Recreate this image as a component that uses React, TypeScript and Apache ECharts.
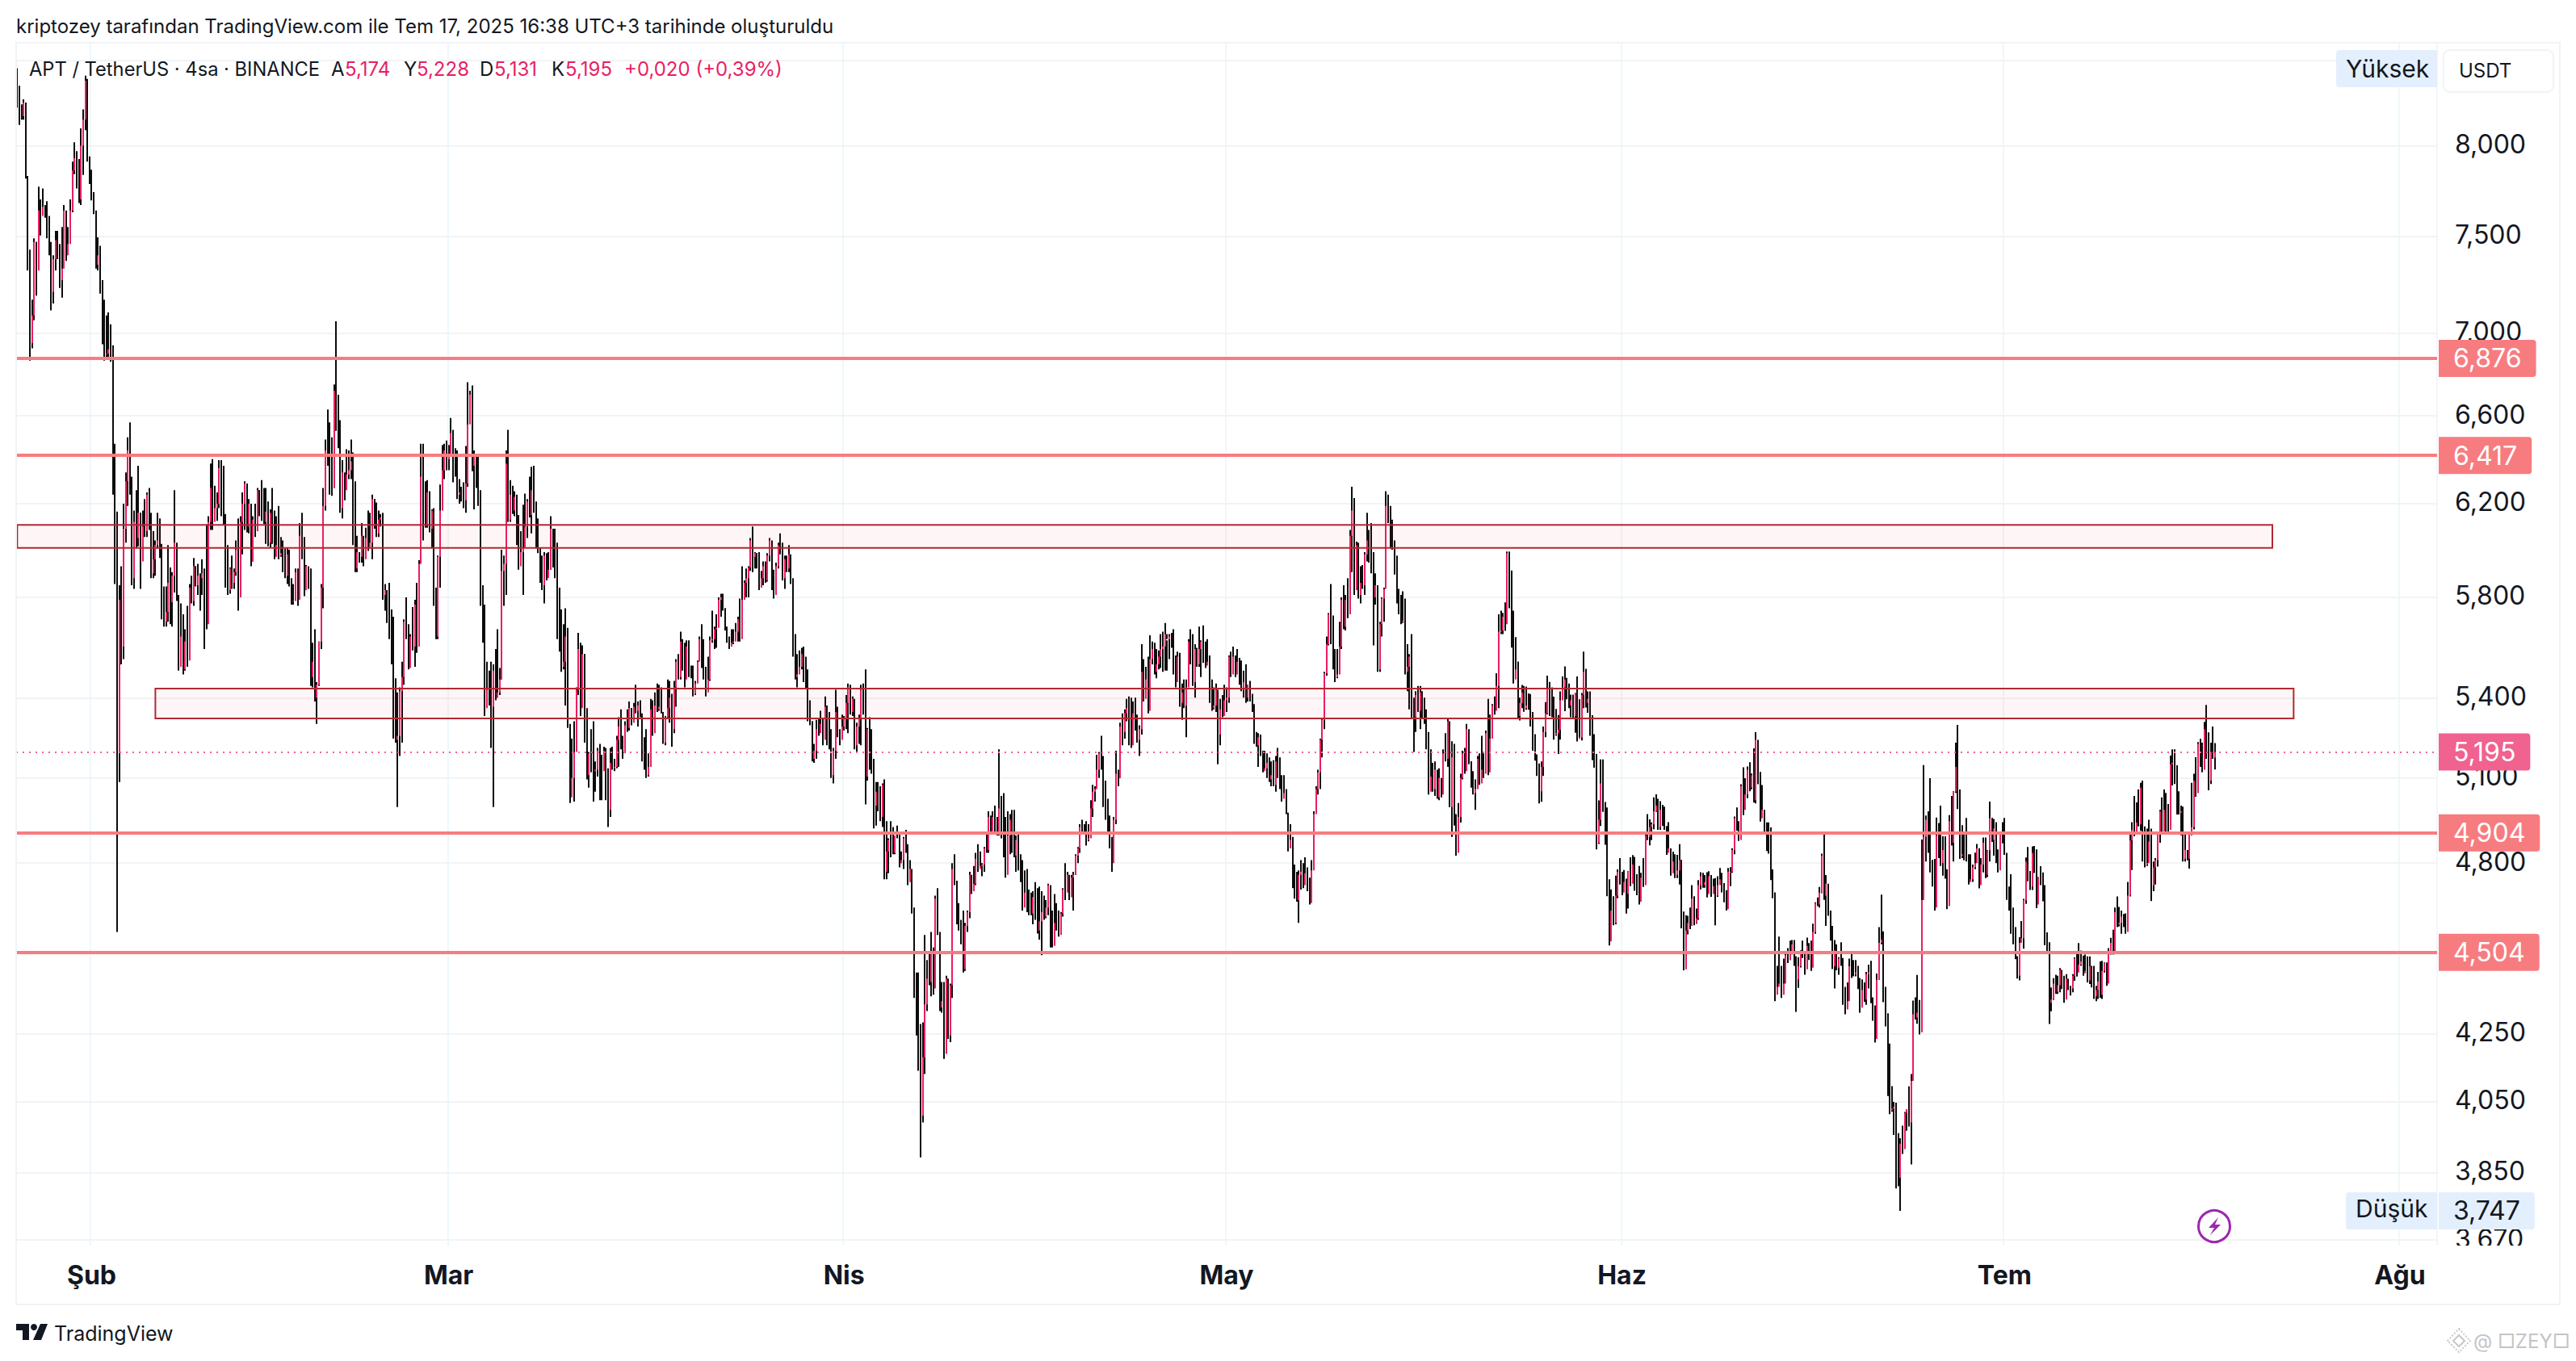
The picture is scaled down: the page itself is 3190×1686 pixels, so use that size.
import React, { useEffect, useRef } from "react";
import * as echarts from "echarts";

// Each month list is flat: high, low, close of one 4h bar, in thousandths of USDT.
const janBars = [
8454,8220,8240, 8350,8120,8200, 8240,8150,8170, 8270,8150,8250, 8250,7815,7820, 7830,7320,7400, 7430,6865,6950, 7170,6925,7090,
7490,7065,7470, 7470,7190,7320, 7770,7320,7640, 7700,7505,7610, 7760,7630,7660, 7670,7600,7620, 7690,7490,7540, 7610,7400,7430,
7470,7115,7210, 7400,7150,7380, 7530,7320,7480, 7530,7380,7400, 7460,7230,7270, 7550,7180,7330, 7670,7370,7640, 7630,7370,7400,
7550,7440,7460, 7700,7520,7640, 7910,7630,7860, 8020,7840,7930, 7970,7760,7800, 7925,7680,7700, 8100,7670,8000, 8210,7835,8150,
8410,8090,8380, 8390,7910,7930, 7940,7785,7800,
];
const febBars = [
7865,7695,7720, 7740,7620,7640, 7630,7330,7350, 7495,7320,7400, 7450,7200,7230, 7270,6945,7000, 7170,6865,6900, 7090,6870,6900,
7105,6880,6920, 7045,6860,6880, 6940,6240,6300, 6470,5855,5950, 6165,4570,5190, 5850,5085,5790, 5930,5530,5600, 6200,5550,6090,
6340,6030,6300, 6500,6190,6440, 6570,6240,6320, 6290,5850,5880, 6170,5835,6120, 6260,6005,6050, 6370,6015,6160, 6160,5835,5950,
6170,6005,6100, 6220,6055,6080, 6250,6055,6240, 6270,6085,6110, 6160,5880,5900, 6080,5880,5960, 6040,5890,6020, 6160,6005,6040,
6135,5965,5990, 6025,5710,5730, 5845,5680,5700, 5845,5680,5740, 6020,5700,5860, 5925,5690,5780, 5905,5680,5890, 6260,5820,6030,
6025,5785,5800, 5810,5505,5520, 5775,5630,5640, 5730,5490,5510, 5670,5505,5620, 5765,5520,5545, 5855,5615,5840, 5890,5775,5785,
5965,5765,5930, 5930,5845,5850, 5940,5810,5890, 5900,5745,5880, 5960,5810,5900, 5920,5590,5850, 6110,5670,5690, 6145,5905,6120,
6380,6085,6270, 6400,6085,6120, 6280,6170,6180, 6250,6125,6200, 6395,6180,6360, 6395,6145,6300, 6370,6105,6130, 6155,5840,5880,
6020,5810,5830, 5925,5815,5920, 5975,5835,5860, 5920,5835,5905, 6040,5890,6000, 6135,5745,5800, 6145,5835,6120, 6250,5980,6200,
6300,6085,6290, 6270,6075,6100, 6220,6070,6200, 6160,5930,5950, 6145,5950,6130, 6200,6055,6080, 6270,6085,6260, 6260,6145,6160,
6305,6125,6140, 6270,6110,6120, 6270,6025,6165, 6210,6015,6030, 6175,6010,6160, 6270,6025,6130, 6170,5960,5970, 6145,6010,6020,
6190,5960,5975, 6055,5970,5985, 6040,5905,5920, 6005,5880,5890, 6010,5855,5980, 6000,5845,5860, 5880,5770,5785, 5855,5770,5785,
5920,5795,5905, 5920,5765,5790, 6115,5810,6060, 6160,5960,5980, 6055,5805,5830, 5935,5860,5930, 5925,5835,5850, 5920,5445,5480,
5615,5440,5540, 5670,5385,5400, 5460,5300,5450, 5620,5445,5620, 5855,5590,5840, 6270,5755,6190, 6490,6170,6440, 6630,6370,6420,
6570,6240,6300, 6500,6235,6270, 6750,6270,6720, 7060,6530,6560, 6700,6450,6480, 6580,6160,6180, 6395,6135,6340, 6300,6215,6260,
6445,6310,6330, 6440,6310,6350, 6490,6310,6390, 6430,6020,6050, 6300,5905,5920, 6060,5905,5990, 5990,5945,5970, 6115,5945,6060,
6055,5930,5960, 6095,5995,6050, 6170,5995,6010, 6160,6005,6030, 6240,5960,6220, 6220,6090,6120, 6205,6055,6070, 6170,6055,6130,
6155,6100,6140, 6160,5790,5810, 5855,5745,5830, 5830,5695,5710, 5860,5630,5640, 5750,5530,5540, 5720,5245,5300, 5475,5230,5240,
5420,4995,5255, 5440,5180,5425, 5540,5230,5480, 5710,5450,5700, 5800,5630,5640, 5690,5510,5515, 5650,5580,5640, 5760,5585,5600,
5790,5520,5770, 5860,5575,5600, 5955,5680,5940, 6470,6040,6320, 6470,6040,6300, 6210,6095,6110, 6305,6095,6250, 6255,6075,6090,
6175,6005,6170, 6180,5765,5800, 5840,5630,5640, 5975,5630,5970, 6285,5840,6170, 6465,6175,6350, 6470,6310,6440, 6485,6350,6400,
];
const marBars = [
6465,6350,6420, 6590,6415,6520, 6535,6295,6450, 6445,6320,6330, 6440,6220,6240, 6310,6200,6250, 6275,6210,6230, 6295,6180,6215,
6460,6160,6290, 6760,6275,6560, 6720,6570,6700, 6745,6345,6370, 6440,6175,6420, 6395,6270,6280, 6425,6190,6200, 6260,5765,5770,
5850,5615,5630, 5770,5330,5360, 5540,5410,5430, 5505,5370,5380, 5540,5210,5365, 5530,4995,5505, 5590,5390,5400, 5670,5400,5420,
5515,5410,5470, 6000,5470,5910, 5975,5765,5940, 6440,5810,6380, 6535,6120,6130, 6305,6120,6240, 6280,6155,6170, 6255,6145,6230,
6240,6020,6040, 6150,5915,5930, 6080,5945,5990, 6195,5810,6010, 6245,6020,6100, 6220,6050,6210, 6320,6140,6150, 6365,6070,6260,
6370,6160,6170, 6210,6005,6020, 6135,5985,5995, 6010,5860,5880, 5975,5830,5850, 5990,5775,5975, 5985,5870,5880, 5990,5910,5915,
6145,5915,6090, 6070,5925,5930, 6090,5880,5890, 6030,5630,5640, 5840,5580,5600, 5750,5500,5520, 5690,5510,5540, 5755,5370,5640,
5675,5285,5300, 5250,5010,5030, 5245,5070,5100, 5310,5015,5195, 5440,5210,5430, 5655,5410,5590, 5615,5330,5360, 5605,5400,5570,
5570,5230,5250, 5360,5095,5110, 5195,5065,5190, 5280,5120,5170, 5310,5015,5125, 5160,5050,5130, 5210,5105,5200, 5225,5020,5130,
5185,5020,5125, 5215,5130,5200, 5210,5020,5035, 5135,4925,4985, 5210,4960,5155, 5215,5130,5140, 5170,5125,5140, 5255,5135,5240,
5325,5140,5290, 5355,5205,5215, 5255,5170,5190, 5310,5195,5295, 5355,5270,5285, 5385,5275,5360, 5360,5295,5305, 5380,5315,5365,
5450,5340,5350, 5385,5290,5370, 5390,5325,5335, 5340,5160,5170, 5250,5130,5150, 5280,5100,5110, 5190,5105,5140, 5395,5140,5355,
5390,5255,5265, 5420,5320,5370, 5455,5345,5355, 5450,5350,5365, 5440,5340,5345, 5330,5225,5230, 5330,5220,5325, 5470,5320,5360,
5465,5305,5400, 5415,5215,5280, 5465,5265,5440, 5550,5365,5540, 5570,5470,5480, 5660,5470,5620, 5630,5505,5510, 5615,5440,5470,
5625,5525,5600, 5625,5480,5490, 5525,5475,5480, 5525,5405,5415, 5465,5410,5455, 5545,5460,5540, 5640,5550,5630, 5690,5515,5530,
5630,5470,5480, 5520,5405,5420, 5560,5465,5470, 5640,5465,5625, 5745,5615,5630, 5680,5590,5670, 5730,5595,5675, 5800,5690,5790,
5815,5720,5800, 5815,5745,5755, 5755,5665,5670, 5680,5615,5620, 5640,5590,5600, 5670,5610,5615, 5670,5610,5620, 5695,5625,5660,
5720,5620,5710, 5795,5620,5630, 5930,5720,5790, 5870,5790,5860, 5920,5800,5880, 5930,5800,5925, 6050,5910,6040, 6100,5905,5970,
5990,5920,5985, 5985,5920,5930, 5990,5830,5840, 5910,5840,5880, 5950,5850,5930, 5950,5860,5870, 5985,5865,5975, 6050,5950,6040,
6030,5830,5850, 5915,5795,5810, 5945,5840,5930, 6030,5920,6020, 6070,5980,5990, 6030,5870,5880, 5975,5835,5960, 5975,5905,5920,
6020,5905,5980, 5955,5855,5870, 5880,5560,5580, 5650,5470,5480, 5570,5440,5490, 5585,5510,5520, 5595,5510,5570, 5600,5460,5490,
5560,5435,5450, 5510,5310,5320, 5390,5295,5310, 5310,5160,5170, 5225,5155,5200, 5315,5170,5280, 5320,5255,5265, 5350,5275,5300,
5320,5220,5240, 5405,5250,5365, 5370,5220,5280, 5345,5205,5220, 5280,5100,5110, 5210,5080,5200, 5430,5170,5345, 5365,5250,5260,
5280,5220,5240, 5335,5245,5290,
];
const aprBars = [
5330,5275,5320, 5410,5280,5380, 5455,5265,5440, 5450,5335,5345, 5405,5330,5395, 5380,5205,5220, 5305,5195,5290, 5335,5225,5320,
5450,5220,5430, 5455,5335,5350, 5510,5005,5105, 5285,5090,5280, 5325,5130,5200, 5280,5115,5125, 5170,4920,5000, 5085,4930,5050,
5085,4980,5000, 5070,4945,4960, 5080,4925,5075, 5095,4745,4770, 4945,4745,4840, 4885,4765,4880, 4945,4820,4840, 4925,4830,4835,
4895,4830,4895, 4930,4885,4890, 4900,4785,4800, 4840,4800,4810, 4890,4780,4885, 4915,4835,4840, 4865,4725,4735, 4810,4740,4780,
4775,4630,4640, 4650,4360,4370, 4440,4245,4255, 4440,4140,4150, 4280,3892,4010, 4285,3990,4180, 4560,4130,4340, 4480,4320,4420,
4500,4400,4410, 4570,4365,4500, 4520,4370,4390, 4690,4395,4680, 4715,4560,4570, 4565,4320,4330, 4410,4315,4350, 4410,4175,4190,
4430,4250,4420, 4420,4235,4245, 4405,4225,4400, 4800,4360,4780, 4830,4725,4730, 4740,4595,4610, 4665,4575,4585, 4610,4530,4540,
4640,4440,4450, 4600,4445,4590, 4640,4570,4635, 4770,4615,4760, 4755,4695,4705, 4790,4705,4730, 4835,4725,4815, 4865,4770,4780,
4840,4785,4790, 4800,4755,4795, 4855,4770,4850, 4905,4835,4845, 4980,4835,4960, 4965,4905,4910, 4980,4915,4960, 5000,4905,4915,
4960,4895,4900, 5205,4895,4990, 5035,4885,4890, 5045,4820,4830, 4960,4750,4760, 4980,4810,4895, 4970,4830,4950, 4985,4835,4845,
4985,4820,4825, 4895,4770,4880, 4900,4775,4785, 4830,4735,4740, 4810,4640,4650, 4775,4695,4700, 4780,4635,4645, 4710,4625,4635,
4700,4625,4630, 4705,4595,4685, 4735,4610,4620, 4715,4565,4575, 4720,4545,4605, 4705,4495,4635, 4690,4610,4620, 4675,4615,4650,
4730,4625,4725, 4700,4520,4530, 4640,4520,4525, 4695,4570,4600, 4665,4575,4585, 4640,4555,4560, 4635,4570,4630, 4715,4620,4710,
4800,4675,4700, 4770,4715,4760, 4755,4675,4685, 4760,4685,4750, 4770,4640,4760, 4830,4760,4825, 4855,4800,4850, 4935,4835,4925,
4950,4900,4910, 4935,4900,4905, 4945,4860,4880, 4935,4875,4885, 5020,4905,4990, 5075,4960,5050, 5070,5015,5060, 5185,5065,5130,
5195,5100,5190, 5255,5130,5140, 5180,4995,5005, 5090,4950,4960, 5025,4905,4920, 4965,4850,4860, 4890,4770,4800, 4960,4835,4950,
5200,4935,5115, 5130,5070,5100, 5305,5100,5290, 5340,5220,5270, 5355,5245,5340, 5395,5310,5360, 5405,5220,5230, 5400,5210,5220,
5385,5280,5340, 5400,5275,5290, 5335,5230,5240, 5295,5180,5280, 5610,5260,5500, 5550,5385,5395, 5520,5425,5470, 5560,5340,5350,
5645,5425,5550, 5620,5530,5590, 5615,5490,5500, 5590,5475,5530, 5585,5510,5560, 5650,5515,5590, 5660,5500,5600, 5695,5505,5650,
5625,5505,5630, 5650,5550,5640, 5655,5595,5600, 5670,5490,5510, 5565,5440,5460, 5580,5500,5560, 5575,5365,5380, 5455,5315,5420,
5470,5360,5370, 5470,5250,5440, 5630,5445,5620, 5670,5530,5590, 5650,5445,5460, 5610,5400,5590, 5595,5520,5530, 5680,5520,5590,
5625,5480,5620, 5685,5535,5550, 5620,5515,5525, 5630,5530,5540, 5565,5380,5390, 5470,5350,5360, 5440,5355,5370, 5455,5345,5430,
5400,5150,5260, 5395,5220,5355, 5410,5325,5330, 5450,5350,5390,
];
const mayBars = [
5440,5345,5400, 5565,5380,5560, 5580,5480,5490, 5600,5500,5560, 5565,5480,5490, 5590,5500,5540, 5555,5450,5460, 5545,5425,5430,
5505,5400,5460, 5530,5380,5400, 5450,5385,5450, 5465,5385,5390, 5415,5345,5350, 5375,5225,5230, 5270,5215,5220, 5265,5140,5250,
5260,5180,5190, 5200,5120,5125, 5200,5130,5135, 5190,5100,5155, 5175,5085,5095, 5160,5070,5110, 5165,5070,5075, 5180,5050,5160,
5210,5100,5110, 5175,5060,5070, 5110,5015,5025, 5110,5040,5045, 5060,4970,4975, 4970,4840,4850, 4935,4875,4880, 4890,4715,4725,
4795,4680,4690, 4770,4670,4675, 4775,4600,4760, 4810,4710,4770, 4800,4715,4725, 4820,4750,4765, 4785,4705,4710, 4750,4660,4665,
4810,4715,4775, 4980,4785,4970, 5070,4975,5060, 5130,5040,5120, 5245,5060,5240, 5320,5175,5315, 5500,5280,5495, 5640,5485,5610,
5735,5605,5730, 5855,5610,5620, 5725,5510,5520, 5590,5460,5480, 5590,5475,5490, 5700,5500,5600, 5800,5590,5790, 5850,5670,5680,
5810,5665,5790, 5880,5715,5730, 6085,5745,6060, 6275,5905,6170, 6225,5810,5830, 6035,5840,6020, 6030,5795,5810, 5930,5775,5860,
5935,5835,5850, 5990,5810,5980, 6160,5950,6040, 6085,5945,5960, 6115,5900,5920, 5990,5605,5800, 5900,5770,5850, 5850,5500,5510,
5700,5500,5690, 5800,5640,5795, 5840,5700,5835, 6255,5840,6190, 6240,6115,6130, 6190,6005,6020, 6130,6000,6010, 6040,5895,5905,
5975,5775,5790, 5835,5730,5740, 5810,5690,5700, 5825,5695,5705, 5795,5490,5500, 5610,5425,5520, 5570,5355,5560, 5650,5320,5340,
5400,5195,5325, 5425,5270,5410, 5445,5345,5350, 5445,5280,5420, 5425,5320,5330, 5400,5300,5310, 5355,5205,5215, 5270,5040,5050,
5205,5095,5105, 5155,5050,5060, 5160,5035,5130, 5125,5025,5030, 5135,5020,5100, 5095,5030,5040, 5205,5060,5190, 5265,5160,5170,
5320,5140,5310, 5210,4995,4995, 5235,4890,5175, 5225,4930,4945, 4970,4825,4835, 5010,4915,4960, 5115,4940,5100, 5200,5095,5190,
5210,5115,5125, 5300,5190,5280, 5260,5150,5160, 5160,5065,5070, 5125,5040,5045, 5095,4985,5060, 5180,5090,5170, 5190,5075,5080,
5255,5120,5130, 5190,5100,5115, 5275,5145,5265, 5395,5110,5120, 5335,5170,5245, 5375,5270,5370, 5405,5335,5350, 5495,5385,5445,
5730,5360,5660, 5745,5650,5665, 5736,5650,5720, 5779,5663,5690, 5992,5712,5985, 5992,5755,5770, 5912,5596,5610, 5745,5455,5470,
5638,5506,5510, 5541,5319,5330, 5400,5313,5380, 5449,5360,5420, 5445,5346,5360, 5443,5354,5370, 5416,5354,5360, 5414,5290,5295,
5345,5200,5210, 5261,5163,5170, 5186,5107,5115, 5153,5008,5052, 5160,5014,5140, 5290,5107,5270, 5383,5250,5340, 5485,5336,5435,
5461,5330,5345, 5440,5325,5335, 5404,5241,5260, 5357,5255,5265, 5334,5188,5278, 5424,5241,5390, 5482,5394,5440, 5522,5348,5470,
5477,5394,5400, 5455,5360,5370, 5412,5325,5390, 5412,5319,5330, 5418,5267,5415, 5482,5234,5245, 5394,5244,5250, 5418,5238,5410,
5580,5360,5500, 5512,5362,5380, 5424,5342,5395, 5424,5255,5270, 5333,5165,5175, 5261,5137,5150, 5188,4847,4870, 5019,4866,4950,
5168,4928,5080, 5168,4978,4990, 5013,4863,4875, 4994,4688,4700, 4745,4526,4540, 4711,4590,4640, 4688,4592,4600, 4757,4595,4690,
4778,4681,4770, 4817,4727,4735,
];
const junBars = [
4770,4691,4700, 4776,4711,4735, 4747,4630,4696, 4772,4647,4770, 4820,4722,4730, 4827,4747,4795, 4821,4706,4715, 4762,4691,4700,
4790,4660,4670, 4767,4684,4750, 4817,4719,4725, 4908,4732,4895, 4970,4879,4890, 4952,4861,4925, 4941,4879,4935, 5030,4917,4980,
5041,4978,5000, 5025,4915,4925, 5016,4915,4985, 5003,4928,4940, 4997,4915,4925, 4928,4828,4835, 4942,4843,4850, 4843,4757,4765,
4839,4767,4805, 4830,4749,4760, 4828,4749,4775, 4865,4727,4810, 4811,4582,4595, 4637,4447,4450, 4625,4461,4575, 4623,4562,4600,
4650,4579,4590, 4725,4597,4680, 4688,4592,4600, 4647,4597,4615, 4742,4610,4725, 4769,4711,4755, 4767,4716,4725, 4759,4716,4735,
4769,4684,4695, 4772,4722,4755, 4759,4686,4695, 4747,4716,4722, 4749,4592,4690, 4755,4686,4725, 4783,4727,4745, 4767,4701,4710,
4732,4668,4675, 4708,4640,4645, 4783,4647,4770, 4786,4722,4770, 4851,4767,4845, 4962,4830,4955, 4994,4912,4920, 4945,4876,4880,
5077,4890,5070, 5139,4967,4985, 5099,5003,5040, 5142,5027,5130, 5157,5052,5065, 5116,5059,5110, 5209,5011,5020, 5269,5008,5240,
5234,5077,5090, 5122,4944,4955, 5074,4975,4985, 4983,4900,4905, 4941,4841,4850, 4941,4832,4840, 4923,4742,4750, 4778,4681,4690,
4701,4350,4370, 4461,4388,4395, 4555,4398,4405, 4461,4360,4370, 4484,4398,4405, 4508,4423,4495, 4518,4470,4480, 4542,4480,4505,
4544,4498,4530, 4544,4461,4470, 4492,4317,4418, 4489,4392,4460, 4511,4456,4505, 4542,4486,4495, 4508,4433,4450, 4552,4480,4525,
4534,4480,4490, 4542,4445,4455, 4597,4496,4570, 4668,4564,4665, 4684,4655,4660, 4719,4650,4700, 4832,4698,4825, 4900,4676,4690,
4759,4590,4730, 4711,4623,4630, 4640,4542,4550, 4590,4451,4460, 4544,4390,4510, 4530,4447,4455, 4489,4433,4485, 4537,4461,4470,
4486,4339,4350, 4395,4310,4325, 4409,4344,4350, 4484,4351,4460, 4508,4423,4440, 4480,4428,4435, 4480,4428,4440, 4461,4388,4395,
4423,4315,4330, 4418,4357,4385, 4409,4348,4355, 4442,4339,4435, 4465,4390,4440, 4477,4344,4355, 4362,4290,4325, 4337,4224,4235,
4437,4265,4417, 4586,4417,4535, 4693,4530,4545, 4572,4347,4360, 4395,4273,4285, 4313,4066,4075, 4221,4014,4025, 4095,4021,4030,
4049,3955,4035, 4047,3807,3960, 3891,3813,3836, 3946,3747,3930, 3981,3902,3915, 4020,3920,4018, 4028,3967,4028, 4094,3979,3990,
4130,3873,4110, 4352,4110,4310, 4362,4294,4300, 4432,4281,4315, 4354,4248,4255, 4881,4258,4676, 5147,4676,4890, 4965,4805,4950,
4980,4835,4845, 5099,4768,4780, 4811,4720,4730, 4814,4640,4650, 4958,4656,4895, 4939,4817,4830, 5000,4790,4800, 4892,4757,4845,
4892,4747,4760, 4779,4645,4655, 4967,4709,4945, 5035,4860,4870, 5052,4805,5050, 5230,5046,5140, 5296,4988,5000, 5058,4814,4825,
4931,4817,4830, 4908,4809,4820, 4957,4805,4815, 4830,4727,4735, 4830,4738,4745, 4795,4736,4785, 4836,4779,4800, 4866,4811,4850,
4851,4714,4725, 4817,4749,4795, 4888,4768,4870, 4888,4749,4760, 4845,4752,4843, 5015,4805,4955, 4957,4873,4880, 4953,4825,4920,
4942,4800,4810, 4847,4768,4775, 4904,4800,4900, 4942,4868,4880,
];
const julBars = [
4957,4828,4835, 4828,4676,4685, 4720,4640,4650, 4762,4564,4575, 4650,4530,4540, 4586,4482,4490, 4492,4421,4430, 4553,4415,4535,
4606,4540,4550, 4679,4516,4675, 4819,4662,4805, 4855,4738,4750, 4773,4709,4720, 4857,4709,4835, 4859,4766,4775, 4847,4648,4660,
4752,4662,4750, 4789,4725,4735, 4768,4671,4680, 4725,4527,4535, 4569,4500,4510, 4537,4280,4345, 4393,4319,4355, 4422,4354,4405,
4433,4373,4380, 4430,4373,4400, 4454,4378,4448, 4447,4388,4395, 4430,4345,4355, 4435,4383,4420, 4414,4385,4395, 4398,4368,4390,
4435,4378,4430, 4488,4414,4485, 4502,4427,4440, 4534,4447,4465, 4510,4461,4475, 4494,4430,4440, 4497,4438,4445, 4491,4409,4415,
4491,4404,4460, 4461,4393,4400, 4461,4357,4365, 4398,4350,4385, 4442,4357,4412, 4475,4360,4370, 4477,4357,4445, 4472,4440,4470,
4472,4398,4405, 4518,4416,4500, 4551,4497,4535, 4577,4497,4505, 4650,4532,4635, 4687,4586,4595, 4652,4588,4600, 4640,4564,4620,
4629,4586,4592, 4631,4564,4570, 4736,4575,4690, 4904,4687,4878, 4942,4776,4915, 5035,4892,4900, 5012,4911,4940, 5058,4927,4935,
5082,4911,5065, 5090,4805,4825, 4927,4785,4795, 4919,4790,4800, 4950,4845,4875, 4919,4672,4725, 4805,4705,4785, 4817,4727,4810,
4900,4788,4900, 4985,4870,4980, 5030,4900,4910, 5058,4925,4985, 5046,4908,4920, 5006,4908,4915, 5182,4925,5150, 5205,5073,5155,
5205,5078,5090, 5146,4969,4980, 5052,4969,4975, 5000,4896,4980, 4997,4805,4815, 4904,4805,4845, 4835,4809,4815, 4902,4781,4900,
5082,4896,4925, 5115,4916,5090, 5176,5032,5045, 5232,5055,5225, 5244,5140,5160, 5230,5120,5130, 5308,5155,5280, 5372,5170,5180,
5268,5055,5090, 5230,5078,5195, 5290,5170,5174, 5228,5131,5195,
];

const firstOpen = 8400;
const monthLabels = ["Şub", "Mar", "Nis", "May", "Haz", "Tem", "Ağu"];
const monthStarts = [35, 203, 389, 569, 755, 935, 1121];
const slotCount = 1139;

const priceMin = 3655.3;
const priceMax = 8609;
const gridTicks = [8500, 8000, 7500, 7000, 6600, 6200, 5800, 5400, 5100, 4800, 4500, 4250, 4050, 3850, 3670];
const tickLabels = ["", "8,000", "7,500", "7,000", "6,600", "6,200", "5,800", "5,400", "5,100", "4,800", "", "4,250", "4,050", "3,850", "3,670"];
const levelValues = [6876, 6417, 4904, 4504];
const levelLabels = ["6,876", "6,417", "4,904", "4,504"];
const lastPrice = 5195;
const lastPriceLabel = "5,195";
const lowPrice = 3747;
const lowPriceLabel = "3,747";
const upperZone = [6107, 6008, 0, 1061];
const lowerZone = [5435, 5321, 65, 1071];

const FONT = "Inter, 'DejaVu Sans', sans-serif";
const INK = "#131722";
const PINK = "#e91e63";

function buildCandles() {
  const flat = [...janBars, ...febBars, ...marBars, ...aprBars, ...mayBars, ...junBars, ...julBars];
  const out: number[][] = [];
  let prev = firstOpen;
  for (let i = 0; i + 2 < flat.length; i += 3) {
    const h = flat[i];
    const l = flat[i + 1];
    const c = flat[i + 2];
    out.push([i / 3, prev, c, l, h]);
    prev = c;
  }
  return out;
}

function renderCandle(_: any, api: any) {
  const x = api.value(0);
  const o = api.value(1);
  const c = api.value(2);
  const pHigh = api.coord([x, api.value(4)]);
  const pLow = api.coord([x, api.value(3)]);
  const pOpen = api.coord([x, o]);
  const pClose = api.coord([x, c]);
  const left = Math.round(pHigh[0]) - 1;
  const top = Math.min(pOpen[1], pClose[1]);
  return {
    type: "group",
    children: [
      { type: "rect", shape: { x: left, y: pHigh[1], width: 2, height: pLow[1] - pHigh[1] }, style: { fill: "#0c0c0c" } },
      { type: "rect", shape: { x: left, y: top, width: 2, height: Math.max(1, Math.abs(pOpen[1] - pClose[1])) }, style: { fill: c >= o ? PINK : "#0c0c0c" } },
    ],
  };
}

function badge(value: number, text: string, bg: string, color: string) {
  return {
    yAxis: value,
    label: {
      show: true,
      position: "end",
      distance: 2,
      formatter: text,
      color,
      backgroundColor: bg,
      fontFamily: FONT,
      fontSize: 32,
      lineHeight: 32,
      padding: [5, 18, 9, 18],
      borderRadius: [0, 4, 4, 0],
    },
  };
}

function txt(x: number, y: number, text: string, fontSize: number, fill: string, extra: any = {}) {
  return {
    type: "text",
    x,
    y,
    z: 60,
    style: { text, fontSize, fill, fontFamily: FONT, textVerticalAlign: "middle", verticalAlign: "middle", ...extra },
  };
}

export default function App() {
  const ref = useRef<HTMLDivElement>(null);
  useEffect(() => {
    const chart = echarts.init(ref.current!, undefined, { renderer: "svg" });
    chart.setOption({
      animation: false,
      backgroundColor: "#ffffff",
      grid: { left: 20, top: 53, width: 2998, height: 1490 },
      xAxis: {
        type: "category",
        data: Array.from({ length: slotCount }, (_, i) => String(i)),
        axisLine: { show: false },
        axisTick: { show: false },
        axisLabel: {
          interval: (i: number) => monthStarts.includes(i),
          formatter: (_: string, i: number) => monthLabels[monthStarts.indexOf(i)] ?? "",
          fontFamily: FONT,
          fontWeight: 700,
          fontSize: 32,
          color: INK,
          margin: 20,
        },
        splitLine: {
          show: true,
          interval: (i: number) => monthStarts.includes(i),
          lineStyle: { color: "#eef7fb", width: 2 },
        },
      },
      yAxis: {
        type: "log",
        logBase: 10,
        min: priceMin,
        max: priceMax,
        axisLine: { show: false },
        axisTick: { show: false },
        axisLabel: { show: false },
        splitLine: { show: false },
      },
      series: [
        {
          type: "line",
          name: "grid",
          data: [],
          silent: true,
          markLine: {
            z: 1,
            silent: true,
            animation: false,
            symbol: ["none", "none"],
            lineStyle: { color: "#f2f3f5", width: 2, type: "solid" },
            label: { show: true, position: "end", distance: 22, color: INK, fontFamily: FONT, fontSize: 32, offset: [0, -2] },
            data: gridTicks.map((v, i) => ({ yAxis: v, label: { formatter: tickLabels[i] } })),
          },
        },
        {
          type: "custom",
          name: "APT / TetherUS",
          z: 2,
          silent: true,
          renderItem: renderCandle,
          encode: { x: 0, y: [1, 2, 3, 4] },
          data: buildCandles(),
        },
        {
          type: "line",
          name: "levels",
          data: [],
          silent: true,
          markArea: {
            z: 4,
            silent: true,
            animation: false,
            itemStyle: { color: "rgba(242,54,69,0.05)", borderColor: "#b22833", borderWidth: 2 },
            label: { show: false },
            data: [upperZone, lowerZone].map((z) => [
              { yAxis: z[0], xAxis: z[2] },
              { yAxis: z[1], xAxis: z[3] },
            ]),
          },
          markLine: {
            z: 6,
            silent: true,
            animation: false,
            symbol: ["none", "none"],
            lineStyle: { color: "#f77c80", width: 4, type: "solid" },
            data: [
              ...levelValues.map((v, i) => badge(v, levelLabels[i], "#f77c80", "#ffffff")),
              {
                ...badge(lastPrice, lastPriceLabel, "#f0628f", "#ffffff"),
                lineStyle: { color: "#f0628f", width: 2, type: [2, 6] },
              },
              {
                ...badge(lowPrice, lowPriceLabel, "#e3effd", INK),
                lineStyle: { color: "rgba(255,255,255,0)", width: 1 },
              },
            ],
          },
        },
      ],
      graphic: [
        { type: "rect", z: 50, shape: { x: 3018, y: 1543, width: 148, height: 16 }, style: { fill: "#ffffff" } },
        { type: "rect", z: 51, shape: { x: 20, y: 53, width: 3150, height: 1563 }, style: { fill: "none", stroke: "#f1f3f6", lineWidth: 2 } },
        txt(20, 32, "kriptozey tarafından TradingView.com ile Tem 17, 2025 16:38 UTC+3 tarihinde oluşturuldu", 24, INK),
        txt(36, 85, "APT / TetherUS · 4sa · BINANCE", 23.7, INK),
        txt(410, 85, "A", 24, INK),
        txt(427, 85, "5,174", 24, PINK),
        txt(500, 85, "Y", 24, INK),
        txt(516, 85, "5,228", 24, PINK),
        txt(594, 85, "D", 24, INK),
        txt(612, 85, "5,131", 24, PINK),
        txt(683, 85, "K", 24, INK),
        txt(700, 85, "5,195", 24, PINK),
        txt(773, 85, "+0,020 (+0,39%)", 24, PINK),
        { type: "rect", z: 55, shape: { x: 2893, y: 62, width: 125, height: 46, r: [4, 0, 0, 4] }, style: { fill: "#e3effd" } },
        txt(2905, 85, "Yüksek", 30, INK),
        { type: "rect", z: 55, shape: { x: 3026, y: 62, width: 136, height: 52, r: 8 }, style: { fill: "#ffffff", stroke: "#f1f3f6", lineWidth: 2 } },
        txt(3045, 87, "USDT", 24, INK),
        { type: "rect", z: 55, shape: { x: 2905, y: 1477, width: 113, height: 46, r: [4, 0, 0, 4] }, style: { fill: "#e3effd" } },
        txt(2917, 1497, "Düşük", 30, INK),
        { type: "circle", z: 55, shape: { cx: 2742, cy: 1519, r: 19.5 }, style: { fill: "#ffffff", stroke: "#9c27b0", lineWidth: 3 } },
        {
          type: "polygon",
          z: 56,
          shape: { points: [[2747, 1508], [2735, 1521], [2742, 1521], [2737, 1530], [2750, 1517], [2743, 1517]] },
          style: { fill: "#9c27b0" },
        },
        { type: "polygon", z: 55, shape: { points: [[20, 1640], [36, 1640], [36, 1660], [28, 1660], [28, 1648], [20, 1648]] }, style: { fill: INK } },
        { type: "circle", z: 55, shape: { cx: 42, cy: 1644, r: 4 }, style: { fill: INK } },
        { type: "polygon", z: 55, shape: { points: [[50, 1640], [59, 1640], [51, 1660], [41, 1660]] }, style: { fill: INK } },
        txt(67, 1652, "TradingView", 25, INK),
        { type: "polygon", z: 55, shape: { points: [[3045, 1646], [3059, 1661], [3045, 1675], [3031, 1661]] }, style: { fill: "none", stroke: "#c8c8c8", lineWidth: 2, lineDash: [2, 2] } },
        { type: "polygon", z: 55, shape: { points: [[3045, 1654], [3052, 1661], [3045, 1668], [3038, 1661]] }, style: { fill: "none", stroke: "#c8c8c8", lineWidth: 2 } },
        txt(3063, 1661, "@ □ZEY□", 24, "#c4c4c4"),
      ],
    });
    return () => chart.dispose();
  }, []);
  return <div ref={ref} style={{ position: "fixed", left: 0, top: 0, width: 3190, height: 1686 }} />;
}
